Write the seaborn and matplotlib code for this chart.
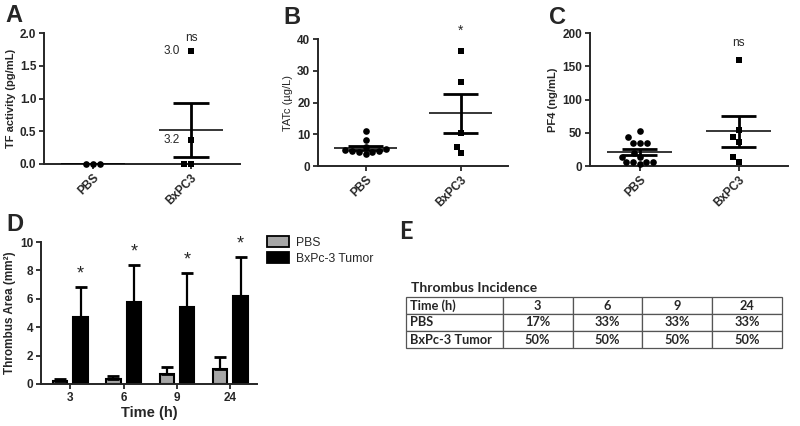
import numpy as np
import pandas as pd
import matplotlib.pyplot as plt
import seaborn as sns
from matplotlib.patches import Patch

# Panels A-C: individual values
groups = ['PBS', 'BxPC3']

tf_pbs = [0.0, 0.0, 0.0]
tf_bxpc3 = [0.0, 0.0, 0.36, 1.73]

tat_pbs = [11.1, 8.1, 6.0, 5.3, 5.0, 4.6, 4.6, 4.4, 4.4, 3.7]
tat_bxpc3 = [36.1, 26.4, 10.3, 5.9, 4.1]

pf4_pbs = [52, 43, 35, 35, 35, 20, 14, 14, 6, 6, 6, 6, 3]
pf4_bxpc3 = [159, 54, 43, 36, 13, 6.5]

# Panel D: thrombus area, mean and SEM
times = ['3', '6', '9', '24']
area_groups = ['PBS', 'BxPc-3 Tumor']
area_pbs = [0.2, 0.38, 0.72, 1.06]
area_pbs_err = [0.15, 0.18, 0.45, 0.85]
area_tumor = [4.74, 5.8, 5.44, 6.17]
area_tumor_err = [2.07, 2.56, 2.38, 2.77]

# Panel E: incidence table
inc_pbs = ['17%', '33%', '33%', '33%']
inc_tumor = ['50%', '50%', '50%', '50%']

sns.set_style('ticks')
plt.rcParams['font.family'] = ['Liberation Sans', 'DejaVu Sans']
plt.rcParams['axes.linewidth'] = 1.4

W, H = 800, 426
fig = plt.figure(figsize=(8, 4.26), dpi=100)


def px_axes(x0, y0, x1, y1):
    return fig.add_axes([x0 / W, 1 - y1 / H, (x1 - x0) / W, (y1 - y0) / H])


def style_axes(ax):
    sns.despine(ax=ax)
    ax.tick_params(length=3.5, width=1.3, labelsize=8.5, pad=2)
    for lab in ax.get_xticklabels() + ax.get_yticklabels():
        lab.set_fontweight('bold')


def dot_panel(ax, pbs, bx, ylabel, ylim, yticks, fmt, label_weight='bold'):
    df = pd.DataFrame({'group': ['PBS'] * len(pbs) + ['BxPC3'] * len(bx),
                       'value': pbs + bx})
    sns.swarmplot(data=df[df.group == 'PBS'], x='group', y='value', order=groups,
                  marker='o', color='black', size=4.8, ax=ax)
    sns.swarmplot(data=df[df.group == 'BxPC3'], x='group', y='value', order=groups,
                  marker='s', color='black', size=4.8, ax=ax)
    for c in ax.collections:
        c.set_clip_on(False)
    stats = df.groupby('group', sort=False)['value'].agg(['mean', 'sem'])
    for i, g in enumerate(groups):
        m, s = stats.loc[g, 'mean'], stats.loc[g, 'sem']
        ax.hlines(m, i - 0.33, i + 0.33, color='black', lw=1.1, zorder=3)
        if s > 0:
            ax.vlines(i, m - s, m + s, color='black', lw=2, zorder=3)
            ax.hlines([m - s, m + s], i - 0.18, i + 0.18, color='black', lw=2, zorder=3)
    ax.set_xlim(-0.5, 1.5)
    ax.set_ylim(*ylim)
    ax.set_yticks(yticks)
    ax.set_yticklabels([fmt.format(t) for t in yticks])
    ax.set_xlabel('')
    ax.set_ylabel(ylabel, fontsize=8, fontweight=label_weight, labelpad=3)
    style_axes(ax)
    ax.set_xticks([0, 1])
    ax.set_xticklabels(groups, rotation=45, ha='right', rotation_mode='anchor',
                       fontweight='bold', fontsize=8.5)


# Panel A
axA = px_axes(44, 33, 240, 164)
dot_panel(axA, tf_pbs, tf_bxpc3, 'TF activity (pg/mL)', (0, 2.0),
          [0, 0.5, 1.0, 1.5, 2.0], '{:.1f}')
axA.text(1, 1.93, 'ns', ha='center', va='center', fontsize=8.5)
axA.text(0.8, 1.73, '3.0', ha='center', va='center', fontsize=8.5)
axA.text(0.8, 0.36, '3.2', ha='center', va='center', fontsize=8.5)

# Panel B
axB = px_axes(318, 39, 508, 166)
dot_panel(axB, tat_pbs, tat_bxpc3, 'TATc (\u00b5g/L)', (0, 40),
          [0, 10, 20, 30, 40], '{:d}', label_weight='normal')
axB.text(1, 42.5, '*', ha='center', va='center', fontsize=10)

# Panel C
axC = px_axes(590, 33, 788, 166)
dot_panel(axC, pf4_pbs, pf4_bxpc3, 'PF4 (ng/mL)', (0, 200),
          [0, 50, 100, 150, 200], '{:d}')
axC.text(1, 185, 'ns', ha='center', va='center', fontsize=8.5)

# Panel D
area = pd.DataFrame({'time': times * 2,
                     'group': [area_groups[0]] * 4 + [area_groups[1]] * 4,
                     'area': area_pbs + area_tumor,
                     'err': area_pbs_err + area_tumor_err})
axD = px_axes(41, 242, 257, 384)
palette = ['#a6a6a6', '#000000']
sns.barplot(data=area, x='time', y='area', hue='group', order=times,
            hue_order=area_groups, palette=palette, width=0.77, gap=0.3,
            errorbar=None, edgecolor='black', linewidth=1.5, ax=axD, legend=False)
for cont, g in zip(axD.containers, area_groups):
    errs = area.loc[area.group == g, 'err'].to_numpy()
    for bar, e in zip(cont, errs):
        xc = bar.get_x() + bar.get_width() / 2
        top = bar.get_height()
        axD.errorbar(xc, top, yerr=[[0], [e]], color='black', lw=1.6,
                     capsize=4, capthick=2, zorder=1)
        if g == area_groups[1]:
            axD.text(xc, top + e + 0.35, '*', ha='center', va='bottom', fontsize=13)
axD.set_xlim(-0.55, 3.5)
axD.set_ylim(0, 10)
axD.set_yticks([0, 2, 4, 6, 8, 10])
axD.set_xlabel('Time (h)', fontsize=10.5, fontweight='bold', labelpad=2)
axD.set_ylabel('Thrombus Area (mm\u00b2)', fontsize=8.5, fontweight='bold', labelpad=3)
style_axes(axD)
handles = [Patch(facecolor=c, edgecolor='black', linewidth=1.3, label=g)
           for c, g in zip(palette, area_groups)]
fig.legend(handles=handles, loc='upper left', bbox_to_anchor=(262 / W, 1 - 231 / H),
           frameon=False, fontsize=8.8, handlelength=1.8, handleheight=1.0,
           handletextpad=0.6, labelspacing=0.3, borderaxespad=0)

# Panel E: table
axE = px_axes(406, 297, 782, 348)
axE.axis('off')
rows = [['Time (h)'] + times, ['PBS'] + inc_pbs, ['BxPc-3 Tumor'] + inc_tumor]
widths = np.array([97, 70, 70, 70, 70]) / 377
tab = axE.table(cellText=rows, colWidths=list(widths), cellLoc='center', bbox=[0, 0, 1, 1])
tab.auto_set_font_size(False)
tab.set_fontsize(9.2)
for (r, c), cell in tab.get_celld().items():
    cell.set_edgecolor('#555555')
    cell.set_linewidth(0.9)
    cell.get_text().set_fontfamily('Lato')
    cell.get_text().set_fontweight('bold')
    if c == 0:
        cell._loc = 'left'
        cell.get_text().set_ha('left')
        cell.PAD = 0.04
fig.text(411 / W, 1 - 288 / H, 'Thrombus Incidence', fontsize=10, fontweight='bold',
         family='Lato', ha='left', va='center')

# Panel letters
for letter, x, y, fam in [('A', 14, 16, 'Liberation Sans'), ('B', 292, 18, 'Liberation Sans'),
                          ('C', 557, 18, 'Liberation Sans'), ('D', 15, 225, 'Liberation Sans'),
                          ('E', 406, 231, 'Lato')]:
    fig.text(x / W, 1 - y / H, letter, fontsize=17, fontweight='bold', family=fam,
             ha='center', va='center')

fig.savefig('out.png', dpi=100)
